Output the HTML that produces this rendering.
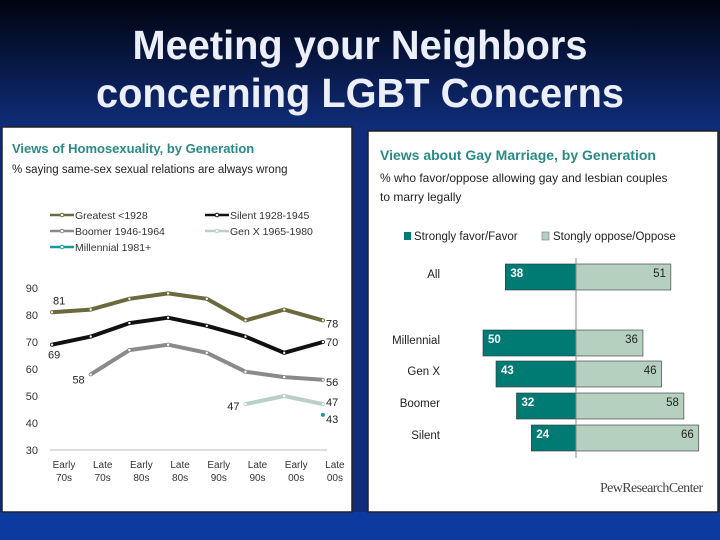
<!DOCTYPE html>
<html><head><meta charset="utf-8"><style>
html,body{margin:0;padding:0;width:720px;height:540px;overflow:hidden;background:#0b2468}
svg{display:block;font-family:"Liberation Sans",sans-serif}
</style></head><body>
<svg width="720" height="540" viewBox="0 0 720 540">
<defs><linearGradient id="bg" x1="0" y1="0" x2="0" y2="1">
<stop offset="0" stop-color="#01030f"/><stop offset="0.23" stop-color="#0f2c78"/><stop offset="1" stop-color="#0f2c78"/></linearGradient></defs>
<rect width="720" height="540" fill="url(#bg)"/>
<rect y="512" width="720" height="28" fill="#0d3a9e"/>
<text x="360" y="59" text-anchor="middle" font-size="41" font-weight="bold" fill="#eceef8" textLength="455" lengthAdjust="spacingAndGlyphs">Meeting your Neighbors</text>
<text x="360" y="107" text-anchor="middle" font-size="41" font-weight="bold" fill="#eceef8" textLength="528" lengthAdjust="spacingAndGlyphs">concerning LGBT Concerns</text>

<g>
<rect x="2" y="127" width="350" height="385" fill="#fff" stroke="#222" stroke-width="1.5"/>
<text x="12" y="153" font-size="13" font-weight="bold" fill="#2a8a86">Views of Homosexuality, by Generation</text>
<text x="12" y="173" font-size="11.5" fill="#222">% saying same-sex sexual relations are always wrong</text>
<g id="legendL"></g>
<g id="axL"></g><g id="linesL"></g>
</g>

<g>
<rect x="368" y="131" width="350" height="381" fill="#fff" stroke="#222" stroke-width="1.5"/>
<text x="380" y="160" font-size="14" font-weight="bold" fill="#2a8a86">Views about Gay Marriage, by Generation</text>
<text x="380" y="182" font-size="12" fill="#222">% who favor/oppose allowing gay and lesbian couples</text>
<text x="380" y="201" font-size="12" fill="#222">to marry legally</text>
<rect x="404" y="232" width="7" height="8" fill="#007b74"/>
<text x="414" y="240" font-size="11.5" fill="#222">Strongly favor/Favor</text>
<rect x="542" y="232" width="7" height="8" fill="#b6d0c0" stroke="#666" stroke-width="0.5"/>
<text x="553" y="240" font-size="11.5" fill="#222">Stongly oppose/Oppose</text>
<g id="barsR"></g>
<text x="600" y="492" font-size="14" fill="#444" font-family="Liberation Serif,serif" letter-spacing="-0.6">PewResearchCenter</text>
</g>
</svg>
<script>
const NS="http://www.w3.org/2000/svg";
function mk(p,t,a,txt){const e=document.createElementNS(NS,t);for(const k in a)e.setAttribute(k,a[k]);if(txt!=null)e.textContent=txt;p.appendChild(e);return e;}
// line chart data
const periods=["Early|70s","Late|70s","Early|80s","Late|80s","Early|90s","Late|90s","Early|00s","Late|00s"];
const yTicks=[90,80,70,60,50,40,30];
const greatest=[81,82,86,88,86,78,82,78];
const silent=[69,72,77,79,76,72,66,70];
const boomer=[null,58,67,69,66,59,57,56];
const genx=[null,null,null,null,null,47,50,47];
const millennial=[null,null,null,null,null,null,null,43];
const seriesNames=["Greatest <1928","Silent 1928-1945","Boomer 1946-1964","Gen X 1965-1980","Millennial 1981+"];
const seriesColors=["#6b6a3e","#111111","#8a8a8a","#b8d0c8","#1a9a9a"];
const seriesData=[greatest,silent,boomer,genx,millennial];
const xL=i=>52+i*38.7, yL=v=>450-(v-30)*2.7;
const ax=document.getElementById('axL');
let e=mk(ax,'line',{x1:50,x2:327,y1:450,y2:450,stroke:'#bbb','stroke-width':1});

yTicks.forEach(t=>{const el=mk(ax,'text',{x:38,y:yL(t)+4,'text-anchor':'end','font-size':11,fill:'#333'},t);
});
periods.forEach((p,i)=>{const [a,b]=p.split('|');
const el=mk(ax,'text',{x:xL(i)+12,y:468,'text-anchor':'middle','font-size':10,fill:'#333'});

mk(el,'tspan',{x:xL(i)+12,dy:0},a);mk(el,'tspan',{x:xL(i)+12,dy:13},b);});
const lg=document.getElementById('legendL');
const lpos=[[50,215],[205,215],[50,231],[205,231],[50,247]];
seriesNames.forEach((n,i)=>{const [x,y]=lpos[i];
const g=mk(lg,'g',{});
mk(g,'line',{x1:x,x2:x+24,y1:y,y2:y,stroke:seriesColors[i],'stroke-width':2.5});
mk(g,'circle',{cx:x+12,cy:y,r:1.8,fill:'#fff',stroke:seriesColors[i]});
mk(g,'text',{x:x+25,y:y+4,'font-size':10.5,fill:'#333'},n);});
const ln=document.getElementById('linesL');
seriesData.forEach((d,s)=>{const pts=[];d.forEach((v,i)=>{if(v!=null)pts.push([xL(i),yL(v)]);});
if(pts.length>1){const pl=mk(ln,'polyline',{points:pts.map(p=>p.join(',')).join(' '),fill:'none',stroke:seriesColors[s],'stroke-width':4,'stroke-linejoin':'round'});
}
pts.forEach(p=>{const c=mk(ln,'circle',{cx:p[0],cy:p[1],r:1.6,fill:s==4?seriesColors[s]:'#fff',stroke:seriesColors[s],'stroke-width':0.8});
});});
const lab=(x,y,t,anchor)=>{const el=mk(ln,'text',{x:x,y:y,'font-size':11,fill:'#222','text-anchor':anchor||'start'},t);
};
lab(53,yL(greatest[0])-8,greatest[0]);lab(326,yL(greatest[7])+7,greatest[7]);
lab(48,yL(silent[0])+14,silent[0]);lab(326,yL(silent[7])+4,silent[7]);
lab(xL(1)-6,yL(boomer[1])+9,boomer[1],'end');lab(326,yL(boomer[7])+6,boomer[7]);
lab(xL(5)-6,yL(genx[5])+6,genx[5],'end');lab(326,yL(genx[7])+2,genx[7]);
lab(326,yL(millennial[7])+8,millennial[7]);
// bar chart data
const groups=["All","Millennial","Gen X","Boomer","Silent"];
const favor=[38,50,43,32,24];
const oppose=[51,36,46,58,66];
const cx=576, k=1.86;
const rowY=[264,330,361,393,425];
const br=document.getElementById('barsR');
groups.forEach((g,i)=>{const y=rowY[i],h=26;
const lb=mk(br,'text',{x:440,y:y+14,'text-anchor':'end','font-size':11.5,fill:'#222'},g);

const r1=mk(br,'rect',{x:cx-favor[i]*k,y:y,width:favor[i]*k,height:h,fill:'#007b74',stroke:'#333','stroke-width':0.6});

const r2=mk(br,'rect',{x:cx,y:y,width:oppose[i]*k,height:h,fill:'#b6d0c0',stroke:'#333','stroke-width':0.6});

const t1=mk(br,'text',{x:cx-favor[i]*k+5,y:y+13,'font-size':11.5,'font-weight':'bold',fill:'#fff'},favor[i]);

const t2=mk(br,'text',{x:cx+oppose[i]*k-5,y:y+13,'text-anchor':'end','font-size':11.5,fill:'#222'},oppose[i]);
});
e=mk(br,'line',{x1:cx,x2:cx,y1:258,y2:458,stroke:'#888','stroke-width':1});

</script>
</body></html>
